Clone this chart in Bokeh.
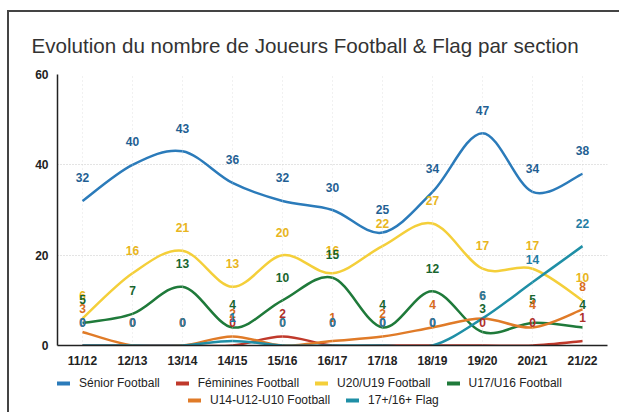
import numpy as np
from bokeh.plotting import figure
from bokeh.layouts import column
from bokeh.models import Range1d, FixedTicker, Legend, LegendItem
from bokeh.embed import file_html
from bokeh.resources import INLINE
from bokeh.core.properties import value

seasons = ["11/12", "12/13", "13/14", "14/15", "15/16", "16/17",
           "17/18", "18/19", "19/20", "20/21", "21/22"]
senior = [32, 40, 43, 36, 32, 30, 25, 34, 47, 34, 38]
feminines = [0, 0, 0, 0, 2, 0, 0, 0, 0, 0, 1]
u20_u19 = [6, 16, 21, 13, 20, 16, 22, 27, 17, 17, 10]
u17_u16 = [5, 7, 13, 4, 10, 15, 4, 12, 3, 5, 4]
u14_u12_u10 = [3, 0, 0, 2, 0, 1, 2, 4, 6, 4, 8]
flag = [0, 0, 0, 1, 0, 0, 0, 0, 6, 14, 22]

names = ["Sénior Football", "Féminines Football", "U20/U19 Football",
         "U17/U16 Football", "U14-U12-U10 Football", "17+/16+ Flag"]
series = [senior, feminines, u20_u19, u17_u16, u14_u12_u10, flag]
line_colors = ["#2b7bba", "#c0392b", "#f4cf3a", "#1f7a3a", "#e07b28", "#1f8fa6"]
label_colors = ["#1f5f93", "#b0302a", "#e8b520", "#18652e", "#d86c1c", "#1f7ca3"]

FONT = "Liberation Sans"

p = figure(width=610, height=358, output_backend="svg", toolbar_location=None,
           x_range=Range1d(-0.5, len(seasons) - 0.5), y_range=Range1d(0, 60),
           min_border_left=48, min_border_right=12, min_border_top=62,
           min_border_bottom=25)
p.outline_line_color = None
p.background_fill_color = "white"
p.border_fill_color = "white"

p.title.text = "Evolution du nombre de Joueurs Football & Flag par section"
p.title.text_font = FONT
p.title.text_font_size = "20.6px"
p.title.text_font_style = "normal"
p.title.text_color = "#333333"
p.title.align = "left"
p.title.offset = -26
p.title.standoff = 35

xs = np.arange(len(seasons), dtype=float)

# smooth curves through the data points (Catmull-Rom as cubic Bezier)
for vals, col in zip(series, line_colors):
    y = np.array(vals, dtype=float)
    n = len(y)
    x0, y0, x1, y1, cx0, cy0, cx1, cy1 = ([] for _ in range(8))
    for i in range(n - 1):
        im1 = max(i - 1, 0)
        ip2 = min(i + 2, n - 1)
        x0.append(xs[i]); y0.append(y[i])
        x1.append(xs[i + 1]); y1.append(y[i + 1])
        cx0.append(xs[i] + (xs[i + 1] - xs[im1]) / 6.0)
        cy0.append(y[i] + (y[i + 1] - y[im1]) / 6.0)
        cx1.append(xs[i + 1] - (xs[ip2] - xs[i]) / 6.0)
        cy1.append(y[i + 1] - (y[ip2] - y[i]) / 6.0)
    p.bezier(x0=x0, y0=y0, x1=x1, y1=y1, cx0=cx0, cy0=cy0, cx1=cx1, cy1=cy1,
             line_color=col, line_width=2.5)

for vals, col in zip(series, label_colors):
    p.text(x=xs, y=vals, text=[str(v) for v in vals], text_color=col,
           text_font=value(FONT), text_font_style="bold", text_font_size="12px",
           text_align="center", text_baseline="middle", y_offset=-23)

# axes
p.xaxis.ticker = FixedTicker(ticks=list(range(len(seasons))))
p.xaxis.major_label_overrides = {i: s for i, s in enumerate(seasons)}
p.yaxis.ticker = FixedTicker(ticks=[0, 20, 40, 60])
for ax in (p.xaxis, p.yaxis):
    ax.major_label_text_font = FONT
    ax.major_label_text_font_size = "12px"
    ax.major_label_text_font_style = "bold"
    ax.major_label_text_color = "#222222"
    ax.major_tick_line_color = None
    ax.minor_tick_line_color = None
    ax.axis_line_color = "#222222"
    ax.axis_line_width = 1.5
p.xaxis.major_label_standoff = 2
p.yaxis.major_label_standoff = 3

p.ygrid.grid_line_color = "#c8c8c8"
p.ygrid.grid_line_dash = "1 2"
p.xgrid.grid_line_color = "#e2e2e2"
p.xgrid.grid_line_dash = "1 3"

# legend figure (two centred rows below the plot)
lf = figure(width=610, height=42, output_backend="svg", toolbar_location=None,
            x_range=Range1d(0, 1), y_range=Range1d(0, 1), min_border=0)
lf.axis.visible = False
lf.grid.visible = False
lf.outline_line_color = None
lf.border_fill_color = "white"

dummies = []
for name, col in zip(names, line_colors):
    # off-range points: nothing drawn in the frame, only the legend swatch
    r = lf.line(x=[5, 6], y=[5, 6], line_color=col, line_width=4,
                line_cap="round")
    dummies.append(LegendItem(label=name, renderers=[r]))

for items, loc in ((dummies[:4], (0, 21)), (dummies[4:], (131, 4))):
    lg = Legend(items=items, orientation="horizontal", location=loc,
                label_text_font=FONT, label_text_font_size="12px",
                label_text_color="#222222", glyph_width=13, glyph_height=12,
                label_standoff=9, spacing=16, padding=0, margin=0,
                label_height=16, border_line_color=None,
                background_fill_alpha=0)
    lf.add_layout(lg, "center")

layout = column(p, lf, spacing=0,
                styles={"margin-left": "7px", "margin-top": "10px",
                        "border-left": "2px solid #444",
                        "border-top": "2px solid #444"})

open("out.html", "w").write(file_html(layout, INLINE))
